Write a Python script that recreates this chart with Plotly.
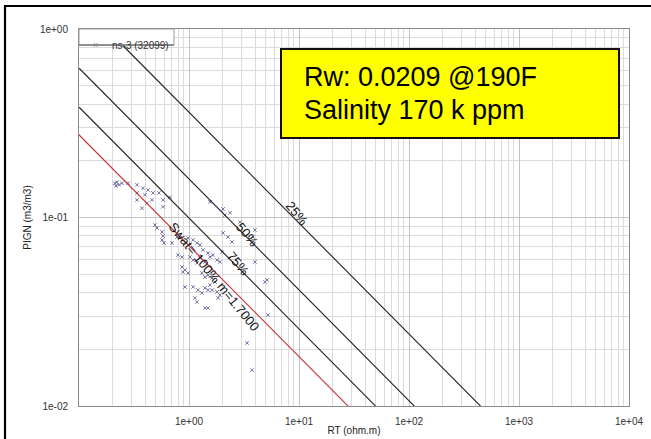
import math
import plotly.graph_objects as go

# ---- Archie model parameters (Pickett plot) ----
m_exp = 1.7           # cementation exponent
n_exp = 2.0           # saturation exponent
a_rw = 0.0111         # a * Rw
sw_levels = [1.00, 0.75, 0.50, 0.25]
sw_labels = ["Swat= 100% m=1.7000", "75%", "50%", "25%"]
sw_colors = ["#c83232", "#202020", "#202020", "#202020"]
label_rt = [1.69, 2.79, 3.37, 9.6]     # resistivity where each line label sits
label_shift = [-5, 4, 3, 8]
phi_span = [0.82, 0.005]

# ---- well ns-3 samples: deep resistivity (ohm.m) and porosity (m3/m3) ----
rt_vals = [0.212, 0.221, 0.231, 0.217, 0.246, 0.279, 0.337, 0.382, 0.424, 0.337,
           0.398, 0.471, 0.533, 0.337, 0.415, 0.461, 0.581, 0.671, 0.374, 0.581,
           1.55, 2.04, 2.36, 2.12, 2.91, 0.491, 0.512, 0.569, 0.581, 0.569,
           0.593, 0.700, 0.778, 0.828, 0.979, 1.09, 1.18, 1.26, 1.34, 1.49,
           0.794, 0.863, 0.863, 0.920, 0.979, 1.02, 1.09, 1.18, 1.26, 1.40,
           1.55, 1.65, 1.80, 1.91, 1.31, 1.40, 1.49, 1.62, 1.72, 1.40,
           1.49, 1.62, 1.80, 1.91, 1.84, 1.09, 1.21, 1.31, 1.13, 1.18,
           1.40, 1.49, 2.04, 2.26, 2.46, 2.00, 3.98, 5.12, 3.98, 3.82,
           4.91, 5.22, 3.37, 3.74, 0.920, 0.881, 1.55]
phi_vals = [0.152, 0.154, 0.149, 0.147, 0.152, 0.152, 0.149, 0.143, 0.140, 0.135,
            0.132, 0.135, 0.135, 0.124, 0.119, 0.124, 0.124, 0.128, 0.112, 0.114,
            0.121, 0.111, 0.106, 0.103, 0.0946, 0.0912, 0.0880, 0.0838, 0.0798, 0.0760,
            0.0732, 0.0732, 0.0788, 0.0778, 0.0778, 0.0760, 0.0732, 0.0715, 0.0673, 0.0648,
            0.0632, 0.0617, 0.0546, 0.0527, 0.0508, 0.0617, 0.0595, 0.0574, 0.0610, 0.0581,
            0.0617, 0.0632, 0.0595, 0.0581, 0.0508, 0.0483, 0.0495, 0.0478, 0.0455, 0.0423,
            0.0412, 0.0412, 0.0403, 0.0388, 0.0374, 0.0428, 0.0412, 0.0398, 0.0374, 0.0356,
            0.0331, 0.0331, 0.0828, 0.0788, 0.0741, 0.0656, 0.0581, 0.0466, 0.0859, 0.0788,
            0.0455, 0.0304, 0.0216, 0.0155, 0.0428, 0.0514, 0.0438]

x_tick_vals = [1, 10, 100, 1000, 10000]
x_tick_text = ["1e+00", "1e+01", "1e+02", "1e+03", "1e+04"]
y_tick_vals = [0.01, 0.1, 1]
y_tick_text = ["1e-02", "1e-01", "1e+00"]

series_name = "ns-3 (32099)"
note_lines = ["Rw: 0.0209 @190F", "Salinity 170 k ppm"]


def archie_rt(phi, sw):
    return a_rw / (phi ** m_exp * sw ** n_exp)


def archie_phi(rt, sw):
    return (a_rw / (rt * sw ** n_exp)) ** (1.0 / m_exp)


fig = go.Figure()

fig.add_trace(go.Scatter(
    x=rt_vals, y=phi_vals, mode="markers", name=series_name,
    marker=dict(symbol="x-thin", size=3.5, line=dict(width=1, color="#7474a6")),
    showlegend=False,
))

# iso-saturation lines, back to front so the 100% line sits on top
for sw, col in list(zip(sw_levels, sw_colors))[::-1]:
    fig.add_trace(go.Scatter(
        x=[archie_rt(p, sw) for p in phi_span], y=phi_span, mode="lines",
        line=dict(color=col, width=1.1), showlegend=False, hoverinfo="skip",
    ))

for sw, txt, rt, dy in zip(sw_levels, sw_labels, label_rt, label_shift):
    fig.add_annotation(
        x=math.log10(rt), y=math.log10(archie_phi(rt, sw)), xref="x", yref="y",
        text=txt, showarrow=False, textangle=51, yshift=dy,
        font=dict(family="Liberation Sans, Arial, sans-serif", size=13, color="#111111"),
    )

# plot-area geometry in pixels (for paper-referenced decorations)
L, R, T, B = 79, 629, 29, 406


def px(x):
    return (x - L) / (R - L)


def py(y):
    return (B - y) / (B - T)


shapes = [
    # legend box
    dict(type="rect", xref="paper", yref="paper", x0=0, x1=px(174), y0=py(45), y1=1,
         fillcolor="white", line=dict(color="#9a9a9a", width=1), layer="above"),
    dict(type="line", xref="paper", yref="paper", x0=0, x1=px(174), y0=py(45), y1=py(45),
         line=dict(color="#555555", width=1.2), layer="above"),
    # yellow note box
    dict(type="rect", xref="paper", yref="paper", x0=px(281), x1=px(619), y0=py(138), y1=py(49),
         fillcolor="#ffff00", line=dict(color="#111111", width=2), layer="above"),
    # outer frame (left and top edges)
    dict(type="line", xref="paper", yref="paper", x0=px(5), x1=px(5), y0=py(460), y1=py(5),
         line=dict(color="#000000", width=2.2)),
    dict(type="line", xref="paper", yref="paper", x0=px(5), x1=px(680), y0=py(6), y1=py(6),
         line=dict(color="#000000", width=2.2)),
]
fig.update_layout(shapes=shapes)

fig.add_annotation(xref="paper", yref="paper", x=px(91), y=py(38), text="×",
                   showarrow=False, font=dict(family="Liberation Sans", size=9, color="#8a8a8a"))
fig.add_annotation(xref="paper", yref="paper", x=px(110), y=py(38), xanchor="left",
                   text=series_name, showarrow=False,
                   font=dict(family="Liberation Sans", size=10, color="#333333"))

for line_txt, yc in zip(note_lines, [77, 110]):
    fig.add_annotation(xref="paper", yref="paper", x=px(302), y=py(yc), xanchor="left",
                       yanchor="middle", text=line_txt, showarrow=False,
                       font=dict(family="Liberation Sans, Arial, sans-serif", size=27,
                                 color="#000000"))

axis_common = dict(
    type="log", showline=True, linecolor="#8c8c8c", linewidth=1, mirror=True,
    ticks="", gridcolor="#c4c4c4", gridwidth=1, zeroline=False, automargin=False,
    tickfont=dict(family="Liberation Sans, Arial, sans-serif", size=10, color="#333333"),
    minor=dict(showgrid=True, gridcolor="#dcdcdc", gridwidth=1, dtick="D1"),
)

fig.update_layout(
    width=651, height=439,
    margin=dict(l=L, r=651 - R, t=T, b=439 - B, pad=0),
    paper_bgcolor="white", plot_bgcolor="white",
    xaxis=dict(axis_common, range=[-1, 4], tickmode="array",
               tickvals=x_tick_vals, ticktext=x_tick_text, ticklabelstandoff=6,
               title=dict(text="RT (ohm.m)", standoff=0,
                          font=dict(family="Liberation Sans, Arial, sans-serif", size=10,
                                    color="#222222"))),
    yaxis=dict(axis_common, range=[-2, 0], tickmode="array",
               tickvals=y_tick_vals, ticktext=y_tick_text, ticklabelstandoff=8,
               title=dict(text="PIGN (m3/m3)", standoff=6,
                          font=dict(family="Liberation Sans, Arial, sans-serif", size=10,
                                    color="#222222"))),
    showlegend=False,
)

fig.write_html("out.html")
